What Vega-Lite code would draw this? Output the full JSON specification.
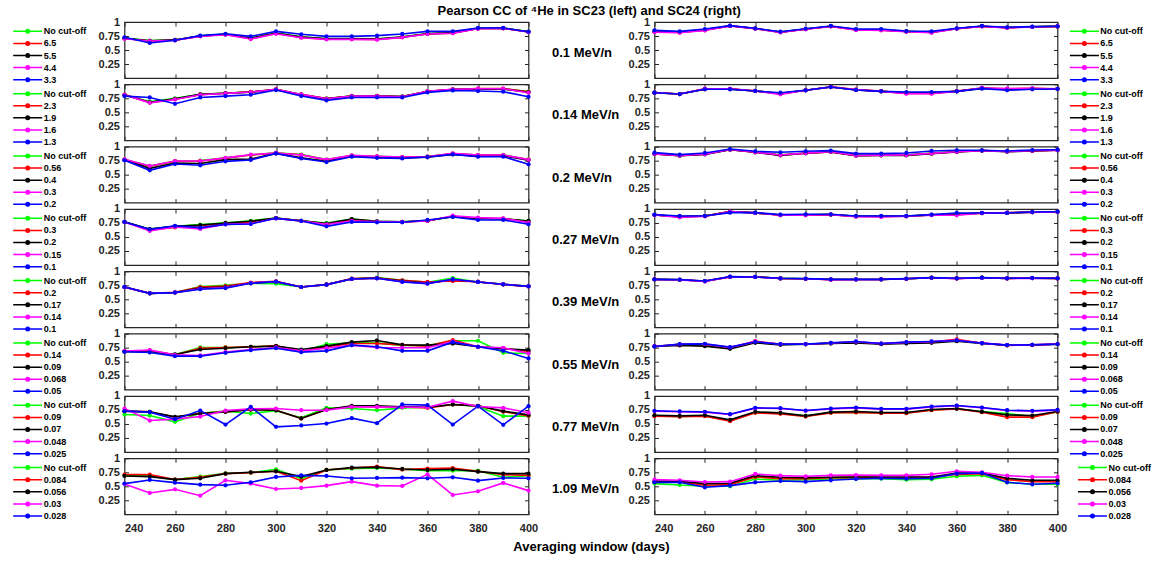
{
"$schema":"https://vega.github.io/schema/vega-lite/v6.json",
"background":"white",
"padding":{"left":20.5,"top":5,"right":5,"bottom":5},
"title":{"text":"Pearson CC of ⁴He in SC23 (left) and SC24 (right)","anchor":"start","frame":"bounds","dx":416.5,"baseline":"alphabetic","offset":-13},
"resolve":{"scale":{"color":"independent"},"legend":{"color":"independent"}},
"datasets":{
"L1":[
{"k":0,"x":240,"y":0.712},{"k":0,"x":250,"y":0.668},{"k":0,"x":260,"y":0.68},{"k":0,"x":270,"y":0.752},{"k":0,"x":280,"y":0.785},{"k":0,"x":290,"y":0.715},{"k":0,"x":300,"y":0.805},{"k":0,"x":310,"y":0.735},{"k":0,"x":320,"y":0.705},{"k":0,"x":330,"y":0.705},{"k":0,"x":340,"y":0.70},{"k":0,"x":350,"y":0.735},{"k":0,"x":360,"y":0.795},{"k":0,"x":370,"y":0.81},{"k":0,"x":380,"y":0.89},{"k":0,"x":390,"y":0.892},{"k":0,"x":400,"y":0.83},
{"k":1,"x":240,"y":0.705},{"k":1,"x":250,"y":0.662},{"k":1,"x":260,"y":0.676},{"k":1,"x":270,"y":0.748},{"k":1,"x":280,"y":0.776},{"k":1,"x":290,"y":0.70},{"k":1,"x":300,"y":0.795},{"k":1,"x":310,"y":0.725},{"k":1,"x":320,"y":0.695},{"k":1,"x":330,"y":0.695},{"k":1,"x":340,"y":0.69},{"k":1,"x":350,"y":0.728},{"k":1,"x":360,"y":0.788},{"k":1,"x":370,"y":0.802},{"k":1,"x":380,"y":0.883},{"k":1,"x":390,"y":0.888},{"k":1,"x":400,"y":0.822},
{"k":2,"x":240,"y":0.71},{"k":2,"x":250,"y":0.665},{"k":2,"x":260,"y":0.68},{"k":2,"x":270,"y":0.75},{"k":2,"x":280,"y":0.78},{"k":2,"x":290,"y":0.71},{"k":2,"x":300,"y":0.80},{"k":2,"x":310,"y":0.73},{"k":2,"x":320,"y":0.70},{"k":2,"x":330,"y":0.70},{"k":2,"x":340,"y":0.695},{"k":2,"x":350,"y":0.73},{"k":2,"x":360,"y":0.79},{"k":2,"x":370,"y":0.805},{"k":2,"x":380,"y":0.885},{"k":2,"x":390,"y":0.89},{"k":2,"x":400,"y":0.825},
{"k":3,"x":240,"y":0.70},{"k":3,"x":250,"y":0.66},{"k":3,"x":260,"y":0.673},{"k":3,"x":270,"y":0.744},{"k":3,"x":280,"y":0.774},{"k":3,"x":290,"y":0.696},{"k":3,"x":300,"y":0.79},{"k":3,"x":310,"y":0.72},{"k":3,"x":320,"y":0.69},{"k":3,"x":330,"y":0.69},{"k":3,"x":340,"y":0.685},{"k":3,"x":350,"y":0.726},{"k":3,"x":360,"y":0.786},{"k":3,"x":370,"y":0.80},{"k":3,"x":380,"y":0.88},{"k":3,"x":390,"y":0.887},{"k":3,"x":400,"y":0.82},
{"k":4,"x":240,"y":0.726},{"k":4,"x":250,"y":0.625},{"k":4,"x":260,"y":0.673},{"k":4,"x":270,"y":0.756},{"k":4,"x":280,"y":0.79},{"k":4,"x":290,"y":0.744},{"k":4,"x":300,"y":0.833},{"k":4,"x":310,"y":0.78},{"k":4,"x":320,"y":0.744},{"k":4,"x":330,"y":0.744},{"k":4,"x":340,"y":0.756},{"k":4,"x":350,"y":0.786},{"k":4,"x":360,"y":0.833},{"k":4,"x":370,"y":0.833},{"k":4,"x":380,"y":0.893},{"k":4,"x":390,"y":0.893},{"k":4,"x":400,"y":0.827}],
"L2":[
{"k":0,"x":240,"y":0.812},{"k":0,"x":250,"y":0.69},{"k":0,"x":260,"y":0.75},{"k":0,"x":270,"y":0.82},{"k":0,"x":280,"y":0.845},{"k":0,"x":290,"y":0.862},{"k":0,"x":300,"y":0.91},{"k":0,"x":310,"y":0.818},{"k":0,"x":320,"y":0.748},{"k":0,"x":330,"y":0.795},{"k":0,"x":340,"y":0.795},{"k":0,"x":350,"y":0.782},{"k":0,"x":360,"y":0.872},{"k":0,"x":370,"y":0.905},{"k":0,"x":380,"y":0.92},{"k":0,"x":390,"y":0.918},{"k":0,"x":400,"y":0.87},
{"k":1,"x":240,"y":0.816},{"k":1,"x":250,"y":0.675},{"k":1,"x":260,"y":0.735},{"k":1,"x":270,"y":0.816},{"k":1,"x":280,"y":0.842},{"k":1,"x":290,"y":0.865},{"k":1,"x":300,"y":0.912},{"k":1,"x":310,"y":0.82},{"k":1,"x":320,"y":0.745},{"k":1,"x":330,"y":0.792},{"k":1,"x":340,"y":0.792},{"k":1,"x":350,"y":0.78},{"k":1,"x":360,"y":0.875},{"k":1,"x":370,"y":0.91},{"k":1,"x":380,"y":0.925},{"k":1,"x":390,"y":0.925},{"k":1,"x":400,"y":0.865},
{"k":2,"x":240,"y":0.81},{"k":2,"x":250,"y":0.68},{"k":2,"x":260,"y":0.74},{"k":2,"x":270,"y":0.82},{"k":2,"x":280,"y":0.84},{"k":2,"x":290,"y":0.86},{"k":2,"x":300,"y":0.905},{"k":2,"x":310,"y":0.815},{"k":2,"x":320,"y":0.74},{"k":2,"x":330,"y":0.79},{"k":2,"x":340,"y":0.79},{"k":2,"x":350,"y":0.78},{"k":2,"x":360,"y":0.87},{"k":2,"x":370,"y":0.905},{"k":2,"x":380,"y":0.915},{"k":2,"x":390,"y":0.915},{"k":2,"x":400,"y":0.86},
{"k":3,"x":240,"y":0.814},{"k":3,"x":250,"y":0.67},{"k":3,"x":260,"y":0.73},{"k":3,"x":270,"y":0.814},{"k":3,"x":280,"y":0.838},{"k":3,"x":290,"y":0.862},{"k":3,"x":300,"y":0.91},{"k":3,"x":310,"y":0.82},{"k":3,"x":320,"y":0.742},{"k":3,"x":330,"y":0.79},{"k":3,"x":340,"y":0.79},{"k":3,"x":350,"y":0.778},{"k":3,"x":360,"y":0.874},{"k":3,"x":370,"y":0.91},{"k":3,"x":380,"y":0.922},{"k":3,"x":390,"y":0.922},{"k":3,"x":400,"y":0.85},
{"k":4,"x":240,"y":0.79},{"k":4,"x":250,"y":0.766},{"k":4,"x":260,"y":0.653},{"k":4,"x":270,"y":0.766},{"k":4,"x":280,"y":0.79},{"k":4,"x":290,"y":0.814},{"k":4,"x":300,"y":0.898},{"k":4,"x":310,"y":0.79},{"k":4,"x":320,"y":0.713},{"k":4,"x":330,"y":0.766},{"k":4,"x":340,"y":0.766},{"k":4,"x":350,"y":0.766},{"k":4,"x":360,"y":0.856},{"k":4,"x":370,"y":0.892},{"k":4,"x":380,"y":0.88},{"k":4,"x":390,"y":0.868},{"k":4,"x":400,"y":0.778}],
"L3":[
{"k":0,"x":240,"y":0.772},{"k":0,"x":250,"y":0.652},{"k":0,"x":260,"y":0.742},{"k":0,"x":270,"y":0.75},{"k":0,"x":280,"y":0.80},{"k":0,"x":290,"y":0.852},{"k":0,"x":300,"y":0.89},{"k":0,"x":310,"y":0.86},{"k":0,"x":320,"y":0.77},{"k":0,"x":330,"y":0.842},{"k":0,"x":340,"y":0.826},{"k":0,"x":350,"y":0.814},{"k":0,"x":360,"y":0.825},{"k":0,"x":370,"y":0.872},{"k":0,"x":380,"y":0.852},{"k":0,"x":390,"y":0.852},{"k":0,"x":400,"y":0.772},
{"k":1,"x":240,"y":0.77},{"k":1,"x":250,"y":0.65},{"k":1,"x":260,"y":0.74},{"k":1,"x":270,"y":0.745},{"k":1,"x":280,"y":0.795},{"k":1,"x":290,"y":0.85},{"k":1,"x":300,"y":0.885},{"k":1,"x":310,"y":0.855},{"k":1,"x":320,"y":0.765},{"k":1,"x":330,"y":0.84},{"k":1,"x":340,"y":0.825},{"k":1,"x":350,"y":0.812},{"k":1,"x":360,"y":0.822},{"k":1,"x":370,"y":0.876},{"k":1,"x":380,"y":0.848},{"k":1,"x":390,"y":0.848},{"k":1,"x":400,"y":0.77},
{"k":2,"x":240,"y":0.76},{"k":2,"x":250,"y":0.613},{"k":2,"x":260,"y":0.708},{"k":2,"x":270,"y":0.70},{"k":2,"x":280,"y":0.768},{"k":2,"x":290,"y":0.78},{"k":2,"x":300,"y":0.88},{"k":2,"x":310,"y":0.80},{"k":2,"x":320,"y":0.74},{"k":2,"x":330,"y":0.83},{"k":2,"x":340,"y":0.81},{"k":2,"x":350,"y":0.80},{"k":2,"x":360,"y":0.81},{"k":2,"x":370,"y":0.86},{"k":2,"x":380,"y":0.83},{"k":2,"x":390,"y":0.835},{"k":2,"x":400,"y":0.76},
{"k":3,"x":240,"y":0.774},{"k":3,"x":250,"y":0.655},{"k":3,"x":260,"y":0.744},{"k":3,"x":270,"y":0.744},{"k":3,"x":280,"y":0.80},{"k":3,"x":290,"y":0.857},{"k":3,"x":300,"y":0.887},{"k":3,"x":310,"y":0.85},{"k":3,"x":320,"y":0.768},{"k":3,"x":330,"y":0.845},{"k":3,"x":340,"y":0.827},{"k":3,"x":350,"y":0.815},{"k":3,"x":360,"y":0.82},{"k":3,"x":370,"y":0.88},{"k":3,"x":380,"y":0.85},{"k":3,"x":390,"y":0.85},{"k":3,"x":400,"y":0.768},
{"k":4,"x":240,"y":0.756},{"k":4,"x":250,"y":0.577},{"k":4,"x":260,"y":0.69},{"k":4,"x":270,"y":0.667},{"k":4,"x":280,"y":0.738},{"k":4,"x":290,"y":0.762},{"k":4,"x":300,"y":0.88},{"k":4,"x":310,"y":0.79},{"k":4,"x":320,"y":0.726},{"k":4,"x":330,"y":0.82},{"k":4,"x":340,"y":0.80},{"k":4,"x":350,"y":0.79},{"k":4,"x":360,"y":0.815},{"k":4,"x":370,"y":0.863},{"k":4,"x":380,"y":0.82},{"k":4,"x":390,"y":0.82},{"k":4,"x":400,"y":0.685}],
"L4":[
{"k":0,"x":240,"y":0.772},{"k":0,"x":250,"y":0.64},{"k":0,"x":260,"y":0.69},{"k":0,"x":270,"y":0.72},{"k":0,"x":280,"y":0.752},{"k":0,"x":290,"y":0.79},{"k":0,"x":300,"y":0.838},{"k":0,"x":310,"y":0.79},{"k":0,"x":320,"y":0.75},{"k":0,"x":330,"y":0.82},{"k":0,"x":340,"y":0.78},{"k":0,"x":350,"y":0.77},{"k":0,"x":360,"y":0.792},{"k":0,"x":370,"y":0.862},{"k":0,"x":380,"y":0.83},{"k":0,"x":390,"y":0.826},{"k":0,"x":400,"y":0.786},
{"k":1,"x":240,"y":0.768},{"k":1,"x":250,"y":0.63},{"k":1,"x":260,"y":0.67},{"k":1,"x":270,"y":0.70},{"k":1,"x":280,"y":0.74},{"k":1,"x":290,"y":0.77},{"k":1,"x":300,"y":0.835},{"k":1,"x":310,"y":0.788},{"k":1,"x":320,"y":0.73},{"k":1,"x":330,"y":0.81},{"k":1,"x":340,"y":0.776},{"k":1,"x":350,"y":0.768},{"k":1,"x":360,"y":0.79},{"k":1,"x":370,"y":0.87},{"k":1,"x":380,"y":0.835},{"k":1,"x":390,"y":0.83},{"k":1,"x":400,"y":0.77},
{"k":2,"x":240,"y":0.77},{"k":2,"x":250,"y":0.64},{"k":2,"x":260,"y":0.69},{"k":2,"x":270,"y":0.714},{"k":2,"x":280,"y":0.75},{"k":2,"x":290,"y":0.78},{"k":2,"x":300,"y":0.836},{"k":2,"x":310,"y":0.79},{"k":2,"x":320,"y":0.74},{"k":2,"x":330,"y":0.82},{"k":2,"x":340,"y":0.78},{"k":2,"x":350,"y":0.77},{"k":2,"x":360,"y":0.79},{"k":2,"x":370,"y":0.865},{"k":2,"x":380,"y":0.83},{"k":2,"x":390,"y":0.825},{"k":2,"x":400,"y":0.786},
{"k":3,"x":240,"y":0.768},{"k":3,"x":250,"y":0.607},{"k":3,"x":260,"y":0.68},{"k":3,"x":270,"y":0.643},{"k":3,"x":280,"y":0.726},{"k":3,"x":290,"y":0.738},{"k":3,"x":300,"y":0.833},{"k":3,"x":310,"y":0.786},{"k":3,"x":320,"y":0.726},{"k":3,"x":330,"y":0.786},{"k":3,"x":340,"y":0.774},{"k":3,"x":350,"y":0.768},{"k":3,"x":360,"y":0.786},{"k":3,"x":370,"y":0.88},{"k":3,"x":380,"y":0.845},{"k":3,"x":390,"y":0.833},{"k":3,"x":400,"y":0.756},
{"k":4,"x":240,"y":0.768},{"k":4,"x":250,"y":0.637},{"k":4,"x":260,"y":0.70},{"k":4,"x":270,"y":0.667},{"k":4,"x":280,"y":0.726},{"k":4,"x":290,"y":0.732},{"k":4,"x":300,"y":0.833},{"k":4,"x":310,"y":0.786},{"k":4,"x":320,"y":0.69},{"k":4,"x":330,"y":0.768},{"k":4,"x":340,"y":0.762},{"k":4,"x":350,"y":0.762},{"k":4,"x":360,"y":0.804},{"k":4,"x":370,"y":0.857},{"k":4,"x":380,"y":0.804},{"k":4,"x":390,"y":0.804},{"k":4,"x":400,"y":0.726}],
"L5":[
{"k":0,"x":240,"y":0.72},{"k":0,"x":250,"y":0.607},{"k":0,"x":260,"y":0.62},{"k":0,"x":270,"y":0.726},{"k":0,"x":280,"y":0.75},{"k":0,"x":290,"y":0.786},{"k":0,"x":300,"y":0.78},{"k":0,"x":310,"y":0.72},{"k":0,"x":320,"y":0.762},{"k":0,"x":330,"y":0.863},{"k":0,"x":340,"y":0.887},{"k":0,"x":350,"y":0.84},{"k":0,"x":360,"y":0.804},{"k":0,"x":370,"y":0.88},{"k":0,"x":380,"y":0.81},{"k":0,"x":390,"y":0.768},{"k":0,"x":400,"y":0.735},
{"k":1,"x":240,"y":0.716},{"k":1,"x":250,"y":0.607},{"k":1,"x":260,"y":0.625},{"k":1,"x":270,"y":0.72},{"k":1,"x":280,"y":0.735},{"k":1,"x":290,"y":0.80},{"k":1,"x":300,"y":0.82},{"k":1,"x":310,"y":0.72},{"k":1,"x":320,"y":0.765},{"k":1,"x":330,"y":0.87},{"k":1,"x":340,"y":0.88},{"k":1,"x":350,"y":0.84},{"k":1,"x":360,"y":0.81},{"k":1,"x":370,"y":0.827},{"k":1,"x":380,"y":0.815},{"k":1,"x":390,"y":0.765},{"k":1,"x":400,"y":0.73},
{"k":2,"x":240,"y":0.72},{"k":2,"x":250,"y":0.607},{"k":2,"x":260,"y":0.62},{"k":2,"x":270,"y":0.70},{"k":2,"x":280,"y":0.72},{"k":2,"x":290,"y":0.79},{"k":2,"x":300,"y":0.815},{"k":2,"x":310,"y":0.72},{"k":2,"x":320,"y":0.762},{"k":2,"x":330,"y":0.865},{"k":2,"x":340,"y":0.878},{"k":2,"x":350,"y":0.825},{"k":2,"x":360,"y":0.79},{"k":2,"x":370,"y":0.85},{"k":2,"x":380,"y":0.81},{"k":2,"x":390,"y":0.768},{"k":2,"x":400,"y":0.732},
{"k":3,"x":240,"y":0.718},{"k":3,"x":250,"y":0.607},{"k":3,"x":260,"y":0.622},{"k":3,"x":270,"y":0.69},{"k":3,"x":280,"y":0.71},{"k":3,"x":290,"y":0.79},{"k":3,"x":300,"y":0.818},{"k":3,"x":310,"y":0.72},{"k":3,"x":320,"y":0.762},{"k":3,"x":330,"y":0.862},{"k":3,"x":340,"y":0.876},{"k":3,"x":350,"y":0.815},{"k":3,"x":360,"y":0.785},{"k":3,"x":370,"y":0.855},{"k":3,"x":380,"y":0.81},{"k":3,"x":390,"y":0.768},{"k":3,"x":400,"y":0.732},
{"k":4,"x":240,"y":0.72},{"k":4,"x":250,"y":0.607},{"k":4,"x":260,"y":0.62},{"k":4,"x":270,"y":0.68},{"k":4,"x":280,"y":0.70},{"k":4,"x":290,"y":0.786},{"k":4,"x":300,"y":0.815},{"k":4,"x":310,"y":0.72},{"k":4,"x":320,"y":0.762},{"k":4,"x":330,"y":0.863},{"k":4,"x":340,"y":0.875},{"k":4,"x":350,"y":0.81},{"k":4,"x":360,"y":0.78},{"k":4,"x":370,"y":0.857},{"k":4,"x":380,"y":0.81},{"k":4,"x":390,"y":0.768},{"k":4,"x":400,"y":0.732}],
"L6":[
{"k":0,"x":240,"y":0.682},{"k":0,"x":250,"y":0.67},{"k":0,"x":260,"y":0.628},{"k":0,"x":270,"y":0.753},{"k":0,"x":280,"y":0.753},{"k":0,"x":290,"y":0.765},{"k":0,"x":300,"y":0.777},{"k":0,"x":310,"y":0.687},{"k":0,"x":320,"y":0.812},{"k":0,"x":330,"y":0.836},{"k":0,"x":340,"y":0.836},{"k":0,"x":350,"y":0.788},{"k":0,"x":360,"y":0.788},{"k":0,"x":370,"y":0.872},{"k":0,"x":380,"y":0.872},{"k":0,"x":390,"y":0.658},{"k":0,"x":400,"y":0.646},
{"k":1,"x":240,"y":0.682},{"k":1,"x":250,"y":0.70},{"k":1,"x":260,"y":0.622},{"k":1,"x":270,"y":0.74},{"k":1,"x":280,"y":0.753},{"k":1,"x":290,"y":0.765},{"k":1,"x":300,"y":0.783},{"k":1,"x":310,"y":0.687},{"k":1,"x":320,"y":0.765},{"k":1,"x":330,"y":0.824},{"k":1,"x":340,"y":0.824},{"k":1,"x":350,"y":0.80},{"k":1,"x":360,"y":0.777},{"k":1,"x":370,"y":0.884},{"k":1,"x":380,"y":0.765},{"k":1,"x":390,"y":0.74},{"k":1,"x":400,"y":0.682},
{"k":2,"x":240,"y":0.682},{"k":2,"x":250,"y":0.682},{"k":2,"x":260,"y":0.628},{"k":2,"x":270,"y":0.717},{"k":2,"x":280,"y":0.74},{"k":2,"x":290,"y":0.765},{"k":2,"x":300,"y":0.777},{"k":2,"x":310,"y":0.717},{"k":2,"x":320,"y":0.777},{"k":2,"x":330,"y":0.848},{"k":2,"x":340,"y":0.878},{"k":2,"x":350,"y":0.80},{"k":2,"x":360,"y":0.795},{"k":2,"x":370,"y":0.824},{"k":2,"x":380,"y":0.765},{"k":2,"x":390,"y":0.73},{"k":2,"x":400,"y":0.705},
{"k":3,"x":240,"y":0.688},{"k":3,"x":250,"y":0.705},{"k":3,"x":260,"y":0.622},{"k":3,"x":270,"y":0.61},{"k":3,"x":280,"y":0.67},{"k":3,"x":290,"y":0.717},{"k":3,"x":300,"y":0.753},{"k":3,"x":310,"y":0.693},{"k":3,"x":320,"y":0.74},{"k":3,"x":330,"y":0.795},{"k":3,"x":340,"y":0.753},{"k":3,"x":350,"y":0.747},{"k":3,"x":360,"y":0.747},{"k":3,"x":370,"y":0.86},{"k":3,"x":380,"y":0.765},{"k":3,"x":390,"y":0.747},{"k":3,"x":400,"y":0.646},
{"k":4,"x":240,"y":0.676},{"k":4,"x":250,"y":0.664},{"k":4,"x":260,"y":0.598},{"k":4,"x":270,"y":0.598},{"k":4,"x":280,"y":0.658},{"k":4,"x":290,"y":0.705},{"k":4,"x":300,"y":0.74},{"k":4,"x":310,"y":0.67},{"k":4,"x":320,"y":0.693},{"k":4,"x":330,"y":0.795},{"k":4,"x":340,"y":0.765},{"k":4,"x":350,"y":0.693},{"k":4,"x":360,"y":0.693},{"k":4,"x":370,"y":0.848},{"k":4,"x":380,"y":0.765},{"k":4,"x":390,"y":0.693},{"k":4,"x":400,"y":0.557}],
"L7":[
{"k":0,"x":240,"y":0.669},{"k":0,"x":250,"y":0.651},{"k":0,"x":260,"y":0.538},{"k":0,"x":270,"y":0.693},{"k":0,"x":280,"y":0.729},{"k":0,"x":290,"y":0.687},{"k":0,"x":300,"y":0.735},{"k":0,"x":310,"y":0.61},{"k":0,"x":320,"y":0.788},{"k":0,"x":330,"y":0.776},{"k":0,"x":340,"y":0.746},{"k":0,"x":350,"y":0.788},{"k":0,"x":360,"y":0.80},{"k":0,"x":370,"y":0.848},{"k":0,"x":380,"y":0.812},{"k":0,"x":390,"y":0.64},{"k":0,"x":400,"y":0.64},
{"k":1,"x":240,"y":0.729},{"k":1,"x":250,"y":0.717},{"k":1,"x":260,"y":0.62},{"k":1,"x":270,"y":0.69},{"k":1,"x":280,"y":0.717},{"k":1,"x":290,"y":0.758},{"k":1,"x":300,"y":0.746},{"k":1,"x":310,"y":0.598},{"k":1,"x":320,"y":0.758},{"k":1,"x":330,"y":0.812},{"k":1,"x":340,"y":0.806},{"k":1,"x":350,"y":0.806},{"k":1,"x":360,"y":0.788},{"k":1,"x":370,"y":0.848},{"k":1,"x":380,"y":0.824},{"k":1,"x":390,"y":0.72},{"k":1,"x":400,"y":0.645},
{"k":2,"x":240,"y":0.729},{"k":2,"x":250,"y":0.717},{"k":2,"x":260,"y":0.627},{"k":2,"x":270,"y":0.687},{"k":2,"x":280,"y":0.717},{"k":2,"x":290,"y":0.758},{"k":2,"x":300,"y":0.746},{"k":2,"x":310,"y":0.598},{"k":2,"x":320,"y":0.758},{"k":2,"x":330,"y":0.824},{"k":2,"x":340,"y":0.824},{"k":2,"x":350,"y":0.806},{"k":2,"x":360,"y":0.80},{"k":2,"x":370,"y":0.848},{"k":2,"x":380,"y":0.824},{"k":2,"x":390,"y":0.729},{"k":2,"x":400,"y":0.663},
{"k":3,"x":240,"y":0.776},{"k":3,"x":250,"y":0.562},{"k":3,"x":260,"y":0.586},{"k":3,"x":270,"y":0.633},{"k":3,"x":280,"y":0.74},{"k":3,"x":290,"y":0.77},{"k":3,"x":300,"y":0.776},{"k":3,"x":310,"y":0.746},{"k":3,"x":320,"y":0.746},{"k":3,"x":330,"y":0.806},{"k":3,"x":340,"y":0.806},{"k":3,"x":350,"y":0.80},{"k":3,"x":360,"y":0.80},{"k":3,"x":370,"y":0.907},{"k":3,"x":380,"y":0.812},{"k":3,"x":390,"y":0.788},{"k":3,"x":400,"y":0.699},
{"k":4,"x":240,"y":0.729},{"k":4,"x":250,"y":0.711},{"k":4,"x":260,"y":0.586},{"k":4,"x":270,"y":0.74},{"k":4,"x":280,"y":0.49},{"k":4,"x":290,"y":0.806},{"k":4,"x":300,"y":0.449},{"k":4,"x":310,"y":0.473},{"k":4,"x":320,"y":0.508},{"k":4,"x":330,"y":0.604},{"k":4,"x":340,"y":0.514},{"k":4,"x":350,"y":0.848},{"k":4,"x":360,"y":0.836},{"k":4,"x":370,"y":0.49},{"k":4,"x":380,"y":0.818},{"k":4,"x":390,"y":0.485},{"k":4,"x":400,"y":0.818}],
"L8":[
{"k":0,"x":240,"y":0.696},{"k":0,"x":250,"y":0.685},{"k":0,"x":260,"y":0.619},{"k":0,"x":270,"y":0.673},{"k":0,"x":280,"y":0.732},{"k":0,"x":290,"y":0.744},{"k":0,"x":300,"y":0.804},{"k":0,"x":310,"y":0.637},{"k":0,"x":320,"y":0.792},{"k":0,"x":330,"y":0.815},{"k":0,"x":340,"y":0.827},{"k":0,"x":350,"y":0.804},{"k":0,"x":360,"y":0.78},{"k":0,"x":370,"y":0.78},{"k":0,"x":380,"y":0.78},{"k":0,"x":390,"y":0.661},{"k":0,"x":400,"y":0.69},
{"k":1,"x":240,"y":0.708},{"k":1,"x":250,"y":0.708},{"k":1,"x":260,"y":0.619},{"k":1,"x":270,"y":0.661},{"k":1,"x":280,"y":0.726},{"k":1,"x":290,"y":0.744},{"k":1,"x":300,"y":0.768},{"k":1,"x":310,"y":0.601},{"k":1,"x":320,"y":0.792},{"k":1,"x":330,"y":0.827},{"k":1,"x":340,"y":0.851},{"k":1,"x":350,"y":0.798},{"k":1,"x":360,"y":0.815},{"k":1,"x":370,"y":0.827},{"k":1,"x":380,"y":0.768},{"k":1,"x":390,"y":0.708},{"k":1,"x":400,"y":0.696},
{"k":2,"x":240,"y":0.685},{"k":2,"x":250,"y":0.673},{"k":2,"x":260,"y":0.619},{"k":2,"x":270,"y":0.643},{"k":2,"x":280,"y":0.726},{"k":2,"x":290,"y":0.75},{"k":2,"x":300,"y":0.768},{"k":2,"x":310,"y":0.673},{"k":2,"x":320,"y":0.792},{"k":2,"x":330,"y":0.833},{"k":2,"x":340,"y":0.839},{"k":2,"x":350,"y":0.81},{"k":2,"x":360,"y":0.792},{"k":2,"x":370,"y":0.804},{"k":2,"x":380,"y":0.762},{"k":2,"x":390,"y":0.726},{"k":2,"x":400,"y":0.726},
{"k":3,"x":240,"y":0.542},{"k":3,"x":250,"y":0.381},{"k":3,"x":260,"y":0.446},{"k":3,"x":270,"y":0.333},{"k":3,"x":280,"y":0.607},{"k":3,"x":290,"y":0.548},{"k":3,"x":300,"y":0.452},{"k":3,"x":310,"y":0.47},{"k":3,"x":320,"y":0.512},{"k":3,"x":330,"y":0.583},{"k":3,"x":340,"y":0.512},{"k":3,"x":350,"y":0.506},{"k":3,"x":360,"y":0.714},{"k":3,"x":370,"y":0.345},{"k":3,"x":380,"y":0.411},{"k":3,"x":390,"y":0.56},{"k":3,"x":400,"y":0.423},
{"k":4,"x":240,"y":0.548},{"k":4,"x":250,"y":0.613},{"k":4,"x":260,"y":0.565},{"k":4,"x":270,"y":0.53},{"k":4,"x":280,"y":0.518},{"k":4,"x":290,"y":0.571},{"k":4,"x":300,"y":0.667},{"k":4,"x":310,"y":0.696},{"k":4,"x":320,"y":0.685},{"k":4,"x":330,"y":0.643},{"k":4,"x":340,"y":0.649},{"k":4,"x":350,"y":0.655},{"k":4,"x":360,"y":0.643},{"k":4,"x":370,"y":0.661},{"k":4,"x":380,"y":0.601},{"k":4,"x":390,"y":0.649},{"k":4,"x":400,"y":0.643}],
"R1":[
{"k":0,"x":240,"y":0.83},{"k":0,"x":250,"y":0.82},{"k":0,"x":260,"y":0.86},{"k":0,"x":270,"y":0.932},{"k":0,"x":280,"y":0.884},{"k":0,"x":290,"y":0.82},{"k":0,"x":300,"y":0.875},{"k":0,"x":310,"y":0.925},{"k":0,"x":320,"y":0.865},{"k":0,"x":330,"y":0.86},{"k":0,"x":340,"y":0.832},{"k":0,"x":350,"y":0.818},{"k":0,"x":360,"y":0.884},{"k":0,"x":370,"y":0.925},{"k":0,"x":380,"y":0.9},{"k":0,"x":390,"y":0.915},{"k":0,"x":400,"y":0.921},
{"k":1,"x":240,"y":0.822},{"k":1,"x":250,"y":0.812},{"k":1,"x":260,"y":0.852},{"k":1,"x":270,"y":0.93},{"k":1,"x":280,"y":0.882},{"k":1,"x":290,"y":0.818},{"k":1,"x":300,"y":0.872},{"k":1,"x":310,"y":0.922},{"k":1,"x":320,"y":0.86},{"k":1,"x":330,"y":0.853},{"k":1,"x":340,"y":0.83},{"k":1,"x":350,"y":0.812},{"k":1,"x":360,"y":0.882},{"k":1,"x":370,"y":0.922},{"k":1,"x":380,"y":0.897},{"k":1,"x":390,"y":0.913},{"k":1,"x":400,"y":0.92},
{"k":2,"x":240,"y":0.83},{"k":2,"x":250,"y":0.82},{"k":2,"x":260,"y":0.86},{"k":2,"x":270,"y":0.932},{"k":2,"x":280,"y":0.884},{"k":2,"x":290,"y":0.82},{"k":2,"x":300,"y":0.875},{"k":2,"x":310,"y":0.925},{"k":2,"x":320,"y":0.865},{"k":2,"x":330,"y":0.86},{"k":2,"x":340,"y":0.832},{"k":2,"x":350,"y":0.818},{"k":2,"x":360,"y":0.884},{"k":2,"x":370,"y":0.925},{"k":2,"x":380,"y":0.9},{"k":2,"x":390,"y":0.915},{"k":2,"x":400,"y":0.921},
{"k":3,"x":240,"y":0.82},{"k":3,"x":250,"y":0.81},{"k":3,"x":260,"y":0.85},{"k":3,"x":270,"y":0.93},{"k":3,"x":280,"y":0.88},{"k":3,"x":290,"y":0.815},{"k":3,"x":300,"y":0.87},{"k":3,"x":310,"y":0.92},{"k":3,"x":320,"y":0.857},{"k":3,"x":330,"y":0.851},{"k":3,"x":340,"y":0.827},{"k":3,"x":350,"y":0.81},{"k":3,"x":360,"y":0.88},{"k":3,"x":370,"y":0.92},{"k":3,"x":380,"y":0.895},{"k":3,"x":390,"y":0.912},{"k":3,"x":400,"y":0.92},
{"k":4,"x":240,"y":0.851},{"k":4,"x":250,"y":0.833},{"k":4,"x":260,"y":0.875},{"k":4,"x":270,"y":0.935},{"k":4,"x":280,"y":0.887},{"k":4,"x":290,"y":0.827},{"k":4,"x":300,"y":0.88},{"k":4,"x":310,"y":0.929},{"k":4,"x":320,"y":0.875},{"k":4,"x":330,"y":0.875},{"k":4,"x":340,"y":0.839},{"k":4,"x":350,"y":0.833},{"k":4,"x":360,"y":0.887},{"k":4,"x":370,"y":0.929},{"k":4,"x":380,"y":0.905},{"k":4,"x":390,"y":0.917},{"k":4,"x":400,"y":0.923}],
"R2":[
{"k":0,"x":240,"y":0.852},{"k":0,"x":250,"y":0.828},{"k":0,"x":260,"y":0.916},{"k":0,"x":270,"y":0.916},{"k":0,"x":280,"y":0.882},{"k":0,"x":290,"y":0.835},{"k":0,"x":300,"y":0.894},{"k":0,"x":310,"y":0.953},{"k":0,"x":320,"y":0.902},{"k":0,"x":330,"y":0.876},{"k":0,"x":340,"y":0.845},{"k":0,"x":350,"y":0.845},{"k":0,"x":360,"y":0.876},{"k":0,"x":370,"y":0.93},{"k":0,"x":380,"y":0.912},{"k":0,"x":390,"y":0.92},{"k":0,"x":400,"y":0.918},
{"k":1,"x":240,"y":0.853},{"k":1,"x":250,"y":0.827},{"k":1,"x":260,"y":0.918},{"k":1,"x":270,"y":0.918},{"k":1,"x":280,"y":0.883},{"k":1,"x":290,"y":0.83},{"k":1,"x":300,"y":0.895},{"k":1,"x":310,"y":0.955},{"k":1,"x":320,"y":0.905},{"k":1,"x":330,"y":0.878},{"k":1,"x":340,"y":0.838},{"k":1,"x":350,"y":0.838},{"k":1,"x":360,"y":0.878},{"k":1,"x":370,"y":0.935},{"k":1,"x":380,"y":0.92},{"k":1,"x":390,"y":0.927},{"k":1,"x":400,"y":0.92},
{"k":2,"x":240,"y":0.85},{"k":2,"x":250,"y":0.827},{"k":2,"x":260,"y":0.915},{"k":2,"x":270,"y":0.915},{"k":2,"x":280,"y":0.88},{"k":2,"x":290,"y":0.835},{"k":2,"x":300,"y":0.893},{"k":2,"x":310,"y":0.952},{"k":2,"x":320,"y":0.9},{"k":2,"x":330,"y":0.875},{"k":2,"x":340,"y":0.845},{"k":2,"x":350,"y":0.845},{"k":2,"x":360,"y":0.875},{"k":2,"x":370,"y":0.93},{"k":2,"x":380,"y":0.91},{"k":2,"x":390,"y":0.92},{"k":2,"x":400,"y":0.918},
{"k":3,"x":240,"y":0.851},{"k":3,"x":250,"y":0.827},{"k":3,"x":260,"y":0.92},{"k":3,"x":270,"y":0.92},{"k":3,"x":280,"y":0.881},{"k":3,"x":290,"y":0.821},{"k":3,"x":300,"y":0.893},{"k":3,"x":310,"y":0.952},{"k":3,"x":320,"y":0.905},{"k":3,"x":330,"y":0.875},{"k":3,"x":340,"y":0.833},{"k":3,"x":350,"y":0.833},{"k":3,"x":360,"y":0.875},{"k":3,"x":370,"y":0.935},{"k":3,"x":380,"y":0.923},{"k":3,"x":390,"y":0.929},{"k":3,"x":400,"y":0.917},
{"k":4,"x":240,"y":0.851},{"k":4,"x":250,"y":0.827},{"k":4,"x":260,"y":0.911},{"k":4,"x":270,"y":0.911},{"k":4,"x":280,"y":0.881},{"k":4,"x":290,"y":0.851},{"k":4,"x":300,"y":0.893},{"k":4,"x":310,"y":0.952},{"k":4,"x":320,"y":0.899},{"k":4,"x":330,"y":0.875},{"k":4,"x":340,"y":0.863},{"k":4,"x":350,"y":0.863},{"k":4,"x":360,"y":0.875},{"k":4,"x":370,"y":0.923},{"k":4,"x":380,"y":0.893},{"k":4,"x":390,"y":0.911},{"k":4,"x":400,"y":0.917}],
"R3":[
{"k":0,"x":240,"y":0.875},{"k":0,"x":250,"y":0.845},{"k":0,"x":260,"y":0.868},{"k":0,"x":270,"y":0.95},{"k":0,"x":280,"y":0.905},{"k":0,"x":290,"y":0.855},{"k":0,"x":300,"y":0.888},{"k":0,"x":310,"y":0.91},{"k":0,"x":320,"y":0.848},{"k":0,"x":330,"y":0.85},{"k":0,"x":340,"y":0.855},{"k":0,"x":350,"y":0.885},{"k":0,"x":360,"y":0.915},{"k":0,"x":370,"y":0.932},{"k":0,"x":380,"y":0.918},{"k":0,"x":390,"y":0.928},{"k":0,"x":400,"y":0.94},
{"k":1,"x":240,"y":0.87},{"k":1,"x":250,"y":0.84},{"k":1,"x":260,"y":0.865},{"k":1,"x":270,"y":0.947},{"k":1,"x":280,"y":0.9},{"k":1,"x":290,"y":0.848},{"k":1,"x":300,"y":0.883},{"k":1,"x":310,"y":0.906},{"k":1,"x":320,"y":0.84},{"k":1,"x":330,"y":0.846},{"k":1,"x":340,"y":0.848},{"k":1,"x":350,"y":0.878},{"k":1,"x":360,"y":0.908},{"k":1,"x":370,"y":0.93},{"k":1,"x":380,"y":0.913},{"k":1,"x":390,"y":0.925},{"k":1,"x":400,"y":0.936},
{"k":2,"x":240,"y":0.869},{"k":2,"x":250,"y":0.839},{"k":2,"x":260,"y":0.863},{"k":2,"x":270,"y":0.946},{"k":2,"x":280,"y":0.899},{"k":2,"x":290,"y":0.845},{"k":2,"x":300,"y":0.881},{"k":2,"x":310,"y":0.905},{"k":2,"x":320,"y":0.839},{"k":2,"x":330,"y":0.845},{"k":2,"x":340,"y":0.845},{"k":2,"x":350,"y":0.875},{"k":2,"x":360,"y":0.905},{"k":2,"x":370,"y":0.929},{"k":2,"x":380,"y":0.911},{"k":2,"x":390,"y":0.923},{"k":2,"x":400,"y":0.935},
{"k":3,"x":240,"y":0.872},{"k":3,"x":250,"y":0.842},{"k":3,"x":260,"y":0.866},{"k":3,"x":270,"y":0.948},{"k":3,"x":280,"y":0.902},{"k":3,"x":290,"y":0.85},{"k":3,"x":300,"y":0.885},{"k":3,"x":310,"y":0.908},{"k":3,"x":320,"y":0.842},{"k":3,"x":330,"y":0.848},{"k":3,"x":340,"y":0.85},{"k":3,"x":350,"y":0.88},{"k":3,"x":360,"y":0.91},{"k":3,"x":370,"y":0.93},{"k":3,"x":380,"y":0.915},{"k":3,"x":390,"y":0.926},{"k":3,"x":400,"y":0.938},
{"k":4,"x":240,"y":0.893},{"k":4,"x":250,"y":0.857},{"k":4,"x":260,"y":0.887},{"k":4,"x":270,"y":0.958},{"k":4,"x":280,"y":0.917},{"k":4,"x":290,"y":0.899},{"k":4,"x":300,"y":0.917},{"k":4,"x":310,"y":0.929},{"k":4,"x":320,"y":0.875},{"k":4,"x":330,"y":0.875},{"k":4,"x":340,"y":0.887},{"k":4,"x":350,"y":0.923},{"k":4,"x":360,"y":0.935},{"k":4,"x":370,"y":0.935},{"k":4,"x":380,"y":0.923},{"k":4,"x":390,"y":0.94},{"k":4,"x":400,"y":0.946}],
"R4":[
{"k":0,"x":240,"y":0.896},{"k":0,"x":250,"y":0.862},{"k":0,"x":260,"y":0.874},{"k":0,"x":270,"y":0.953},{"k":0,"x":280,"y":0.93},{"k":0,"x":290,"y":0.892},{"k":0,"x":300,"y":0.895},{"k":0,"x":310,"y":0.9},{"k":0,"x":320,"y":0.87},{"k":0,"x":330,"y":0.868},{"k":0,"x":340,"y":0.872},{"k":0,"x":350,"y":0.894},{"k":0,"x":360,"y":0.902},{"k":0,"x":370,"y":0.927},{"k":0,"x":380,"y":0.93},{"k":0,"x":390,"y":0.943},{"k":0,"x":400,"y":0.95},
{"k":1,"x":240,"y":0.895},{"k":1,"x":250,"y":0.86},{"k":1,"x":260,"y":0.873},{"k":1,"x":270,"y":0.952},{"k":1,"x":280,"y":0.93},{"k":1,"x":290,"y":0.89},{"k":1,"x":300,"y":0.893},{"k":1,"x":310,"y":0.9},{"k":1,"x":320,"y":0.868},{"k":1,"x":330,"y":0.865},{"k":1,"x":340,"y":0.87},{"k":1,"x":350,"y":0.893},{"k":1,"x":360,"y":0.9},{"k":1,"x":370,"y":0.926},{"k":1,"x":380,"y":0.93},{"k":1,"x":390,"y":0.942},{"k":1,"x":400,"y":0.95},
{"k":2,"x":240,"y":0.893},{"k":2,"x":250,"y":0.863},{"k":2,"x":260,"y":0.875},{"k":2,"x":270,"y":0.955},{"k":2,"x":280,"y":0.93},{"k":2,"x":290,"y":0.893},{"k":2,"x":300,"y":0.895},{"k":2,"x":310,"y":0.9},{"k":2,"x":320,"y":0.87},{"k":2,"x":330,"y":0.87},{"k":2,"x":340,"y":0.872},{"k":2,"x":350,"y":0.895},{"k":2,"x":360,"y":0.905},{"k":2,"x":370,"y":0.928},{"k":2,"x":380,"y":0.93},{"k":2,"x":390,"y":0.944},{"k":2,"x":400,"y":0.95},
{"k":3,"x":240,"y":0.893},{"k":3,"x":250,"y":0.851},{"k":3,"x":260,"y":0.87},{"k":3,"x":270,"y":0.952},{"k":3,"x":280,"y":0.93},{"k":3,"x":290,"y":0.89},{"k":3,"x":300,"y":0.887},{"k":3,"x":310,"y":0.9},{"k":3,"x":320,"y":0.863},{"k":3,"x":330,"y":0.857},{"k":3,"x":340,"y":0.87},{"k":3,"x":350,"y":0.89},{"k":3,"x":360,"y":0.887},{"k":3,"x":370,"y":0.925},{"k":3,"x":380,"y":0.935},{"k":3,"x":390,"y":0.94},{"k":3,"x":400,"y":0.95},
{"k":4,"x":240,"y":0.899},{"k":4,"x":250,"y":0.875},{"k":4,"x":260,"y":0.875},{"k":4,"x":270,"y":0.935},{"k":4,"x":280,"y":0.935},{"k":4,"x":290,"y":0.899},{"k":4,"x":300,"y":0.905},{"k":4,"x":310,"y":0.905},{"k":4,"x":320,"y":0.875},{"k":4,"x":330,"y":0.875},{"k":4,"x":340,"y":0.875},{"k":4,"x":350,"y":0.899},{"k":4,"x":360,"y":0.929},{"k":4,"x":370,"y":0.929},{"k":4,"x":380,"y":0.929},{"k":4,"x":390,"y":0.946},{"k":4,"x":400,"y":0.952}],
"R5":[
{"k":0,"x":240,"y":0.856},{"k":0,"x":250,"y":0.849},{"k":0,"x":260,"y":0.823},{"k":0,"x":270,"y":0.902},{"k":0,"x":280,"y":0.9},{"k":0,"x":290,"y":0.874},{"k":0,"x":300,"y":0.867},{"k":0,"x":310,"y":0.853},{"k":0,"x":320,"y":0.854},{"k":0,"x":330,"y":0.855},{"k":0,"x":340,"y":0.867},{"k":0,"x":350,"y":0.885},{"k":0,"x":360,"y":0.873},{"k":0,"x":370,"y":0.886},{"k":0,"x":380,"y":0.874},{"k":0,"x":390,"y":0.879},{"k":0,"x":400,"y":0.874},
{"k":1,"x":240,"y":0.857},{"k":1,"x":250,"y":0.85},{"k":1,"x":260,"y":0.825},{"k":1,"x":270,"y":0.9},{"k":1,"x":280,"y":0.902},{"k":1,"x":290,"y":0.873},{"k":1,"x":300,"y":0.868},{"k":1,"x":310,"y":0.852},{"k":1,"x":320,"y":0.855},{"k":1,"x":330,"y":0.856},{"k":1,"x":340,"y":0.868},{"k":1,"x":350,"y":0.886},{"k":1,"x":360,"y":0.872},{"k":1,"x":370,"y":0.886},{"k":1,"x":380,"y":0.874},{"k":1,"x":390,"y":0.88},{"k":1,"x":400,"y":0.873},
{"k":2,"x":240,"y":0.856},{"k":2,"x":250,"y":0.849},{"k":2,"x":260,"y":0.823},{"k":2,"x":270,"y":0.902},{"k":2,"x":280,"y":0.9},{"k":2,"x":290,"y":0.874},{"k":2,"x":300,"y":0.867},{"k":2,"x":310,"y":0.853},{"k":2,"x":320,"y":0.854},{"k":2,"x":330,"y":0.855},{"k":2,"x":340,"y":0.867},{"k":2,"x":350,"y":0.885},{"k":2,"x":360,"y":0.873},{"k":2,"x":370,"y":0.886},{"k":2,"x":380,"y":0.874},{"k":2,"x":390,"y":0.879},{"k":2,"x":400,"y":0.874},
{"k":3,"x":240,"y":0.855},{"k":3,"x":250,"y":0.848},{"k":3,"x":260,"y":0.82},{"k":3,"x":270,"y":0.9},{"k":3,"x":280,"y":0.9},{"k":3,"x":290,"y":0.872},{"k":3,"x":300,"y":0.866},{"k":3,"x":310,"y":0.85},{"k":3,"x":320,"y":0.852},{"k":3,"x":330,"y":0.855},{"k":3,"x":340,"y":0.866},{"k":3,"x":350,"y":0.885},{"k":3,"x":360,"y":0.87},{"k":3,"x":370,"y":0.885},{"k":3,"x":380,"y":0.872},{"k":3,"x":390,"y":0.878},{"k":3,"x":400,"y":0.872},
{"k":4,"x":240,"y":0.857},{"k":4,"x":250,"y":0.851},{"k":4,"x":260,"y":0.827},{"k":4,"x":270,"y":0.905},{"k":4,"x":280,"y":0.899},{"k":4,"x":290,"y":0.875},{"k":4,"x":300,"y":0.869},{"k":4,"x":310,"y":0.857},{"k":4,"x":320,"y":0.857},{"k":4,"x":330,"y":0.857},{"k":4,"x":340,"y":0.869},{"k":4,"x":350,"y":0.887},{"k":4,"x":360,"y":0.875},{"k":4,"x":370,"y":0.887},{"k":4,"x":380,"y":0.875},{"k":4,"x":390,"y":0.881},{"k":4,"x":400,"y":0.875}],
"R6":[
{"k":0,"x":240,"y":0.77},{"k":0,"x":250,"y":0.808},{"k":0,"x":260,"y":0.812},{"k":0,"x":270,"y":0.75},{"k":0,"x":280,"y":0.85},{"k":0,"x":290,"y":0.81},{"k":0,"x":300,"y":0.81},{"k":0,"x":310,"y":0.832},{"k":0,"x":320,"y":0.852},{"k":0,"x":330,"y":0.82},{"k":0,"x":340,"y":0.842},{"k":0,"x":350,"y":0.852},{"k":0,"x":360,"y":0.876},{"k":0,"x":370,"y":0.828},{"k":0,"x":380,"y":0.793},{"k":0,"x":390,"y":0.798},{"k":0,"x":400,"y":0.81},
{"k":1,"x":240,"y":0.775},{"k":1,"x":250,"y":0.805},{"k":1,"x":260,"y":0.81},{"k":1,"x":270,"y":0.745},{"k":1,"x":280,"y":0.866},{"k":1,"x":290,"y":0.81},{"k":1,"x":300,"y":0.81},{"k":1,"x":310,"y":0.83},{"k":1,"x":320,"y":0.85},{"k":1,"x":330,"y":0.82},{"k":1,"x":340,"y":0.84},{"k":1,"x":350,"y":0.85},{"k":1,"x":360,"y":0.9},{"k":1,"x":370,"y":0.83},{"k":1,"x":380,"y":0.79},{"k":1,"x":390,"y":0.795},{"k":1,"x":400,"y":0.815},
{"k":2,"x":240,"y":0.771},{"k":2,"x":250,"y":0.789},{"k":2,"x":260,"y":0.777},{"k":2,"x":270,"y":0.729},{"k":2,"x":280,"y":0.836},{"k":2,"x":290,"y":0.80},{"k":2,"x":300,"y":0.813},{"k":2,"x":310,"y":0.824},{"k":2,"x":320,"y":0.836},{"k":2,"x":330,"y":0.812},{"k":2,"x":340,"y":0.824},{"k":2,"x":350,"y":0.836},{"k":2,"x":360,"y":0.866},{"k":2,"x":370,"y":0.825},{"k":2,"x":380,"y":0.795},{"k":2,"x":390,"y":0.80},{"k":2,"x":400,"y":0.81},
{"k":3,"x":240,"y":0.771},{"k":3,"x":250,"y":0.81},{"k":3,"x":260,"y":0.815},{"k":3,"x":270,"y":0.755},{"k":3,"x":280,"y":0.858},{"k":3,"x":290,"y":0.812},{"k":3,"x":300,"y":0.812},{"k":3,"x":310,"y":0.834},{"k":3,"x":320,"y":0.856},{"k":3,"x":330,"y":0.822},{"k":3,"x":340,"y":0.845},{"k":3,"x":350,"y":0.857},{"k":3,"x":360,"y":0.885},{"k":3,"x":370,"y":0.83},{"k":3,"x":380,"y":0.795},{"k":3,"x":390,"y":0.8},{"k":3,"x":400,"y":0.813},
{"k":4,"x":240,"y":0.771},{"k":4,"x":250,"y":0.813},{"k":4,"x":260,"y":0.818},{"k":4,"x":270,"y":0.759},{"k":4,"x":280,"y":0.854},{"k":4,"x":290,"y":0.813},{"k":4,"x":300,"y":0.813},{"k":4,"x":310,"y":0.836},{"k":4,"x":320,"y":0.86},{"k":4,"x":330,"y":0.824},{"k":4,"x":340,"y":0.848},{"k":4,"x":350,"y":0.86},{"k":4,"x":360,"y":0.878},{"k":4,"x":370,"y":0.83},{"k":4,"x":380,"y":0.795},{"k":4,"x":390,"y":0.80},{"k":4,"x":400,"y":0.813}],
"R7":[
{"k":0,"x":240,"y":0.645},{"k":0,"x":250,"y":0.635},{"k":0,"x":260,"y":0.645},{"k":0,"x":270,"y":0.56},{"k":0,"x":280,"y":0.705},{"k":0,"x":290,"y":0.69},{"k":0,"x":300,"y":0.64},{"k":0,"x":310,"y":0.705},{"k":0,"x":320,"y":0.71},{"k":0,"x":330,"y":0.698},{"k":0,"x":340,"y":0.698},{"k":0,"x":350,"y":0.75},{"k":0,"x":360,"y":0.772},{"k":0,"x":370,"y":0.72},{"k":0,"x":380,"y":0.687},{"k":0,"x":390,"y":0.63},{"k":0,"x":400,"y":0.72},
{"k":1,"x":240,"y":0.639},{"k":1,"x":250,"y":0.628},{"k":1,"x":260,"y":0.64},{"k":1,"x":270,"y":0.55},{"k":1,"x":280,"y":0.699},{"k":1,"x":290,"y":0.681},{"k":1,"x":300,"y":0.633},{"k":1,"x":310,"y":0.699},{"k":1,"x":320,"y":0.705},{"k":1,"x":330,"y":0.693},{"k":1,"x":340,"y":0.693},{"k":1,"x":350,"y":0.746},{"k":1,"x":360,"y":0.77},{"k":1,"x":370,"y":0.711},{"k":1,"x":380,"y":0.622},{"k":1,"x":390,"y":0.622},{"k":1,"x":400,"y":0.717},
{"k":2,"x":240,"y":0.657},{"k":2,"x":250,"y":0.645},{"k":2,"x":260,"y":0.657},{"k":2,"x":270,"y":0.574},{"k":2,"x":280,"y":0.717},{"k":2,"x":290,"y":0.699},{"k":2,"x":300,"y":0.645},{"k":2,"x":310,"y":0.711},{"k":2,"x":320,"y":0.723},{"k":2,"x":330,"y":0.705},{"k":2,"x":340,"y":0.705},{"k":2,"x":350,"y":0.758},{"k":2,"x":360,"y":0.776},{"k":2,"x":370,"y":0.717},{"k":2,"x":380,"y":0.663},{"k":2,"x":390,"y":0.651},{"k":2,"x":400,"y":0.723},
{"k":3,"x":240,"y":0.73},{"k":3,"x":250,"y":0.718},{"k":3,"x":260,"y":0.712},{"k":3,"x":270,"y":0.67},{"k":3,"x":280,"y":0.782},{"k":3,"x":290,"y":0.776},{"k":3,"x":300,"y":0.735},{"k":3,"x":310,"y":0.77},{"k":3,"x":320,"y":0.788},{"k":3,"x":330,"y":0.765},{"k":3,"x":340,"y":0.765},{"k":3,"x":350,"y":0.806},{"k":3,"x":360,"y":0.826},{"k":3,"x":370,"y":0.79},{"k":3,"x":380,"y":0.742},{"k":3,"x":390,"y":0.73},{"k":3,"x":400,"y":0.748},
{"k":4,"x":240,"y":0.735},{"k":4,"x":250,"y":0.723},{"k":4,"x":260,"y":0.717},{"k":4,"x":270,"y":0.675},{"k":4,"x":280,"y":0.788},{"k":4,"x":290,"y":0.782},{"k":4,"x":300,"y":0.74},{"k":4,"x":310,"y":0.776},{"k":4,"x":320,"y":0.794},{"k":4,"x":330,"y":0.77},{"k":4,"x":340,"y":0.77},{"k":4,"x":350,"y":0.812},{"k":4,"x":360,"y":0.83},{"k":4,"x":370,"y":0.794},{"k":4,"x":380,"y":0.746},{"k":4,"x":390,"y":0.735},{"k":4,"x":400,"y":0.752}],
"R8":[
{"k":0,"x":240,"y":0.548},{"k":0,"x":250,"y":0.524},{"k":0,"x":260,"y":0.50},{"k":0,"x":270,"y":0.50},{"k":0,"x":280,"y":0.631},{"k":0,"x":290,"y":0.607},{"k":0,"x":300,"y":0.619},{"k":0,"x":310,"y":0.631},{"k":0,"x":320,"y":0.637},{"k":0,"x":330,"y":0.637},{"k":0,"x":340,"y":0.619},{"k":0,"x":350,"y":0.625},{"k":0,"x":360,"y":0.679},{"k":0,"x":370,"y":0.696},{"k":0,"x":380,"y":0.571},{"k":0,"x":390,"y":0.536},{"k":0,"x":400,"y":0.536},
{"k":1,"x":240,"y":0.577},{"k":1,"x":250,"y":0.577},{"k":1,"x":260,"y":0.518},{"k":1,"x":270,"y":0.53},{"k":1,"x":280,"y":0.667},{"k":1,"x":290,"y":0.637},{"k":1,"x":300,"y":0.637},{"k":1,"x":310,"y":0.655},{"k":1,"x":320,"y":0.66},{"k":1,"x":330,"y":0.655},{"k":1,"x":340,"y":0.655},{"k":1,"x":350,"y":0.66},{"k":1,"x":360,"y":0.714},{"k":1,"x":370,"y":0.726},{"k":1,"x":380,"y":0.619},{"k":1,"x":390,"y":0.583},{"k":1,"x":400,"y":0.583},
{"k":2,"x":240,"y":0.595},{"k":2,"x":250,"y":0.589},{"k":2,"x":260,"y":0.548},{"k":2,"x":270,"y":0.554},{"k":2,"x":280,"y":0.69},{"k":2,"x":290,"y":0.661},{"k":2,"x":300,"y":0.655},{"k":2,"x":310,"y":0.661},{"k":2,"x":320,"y":0.667},{"k":2,"x":330,"y":0.667},{"k":2,"x":340,"y":0.667},{"k":2,"x":350,"y":0.667},{"k":2,"x":360,"y":0.738},{"k":2,"x":370,"y":0.738},{"k":2,"x":380,"y":0.643},{"k":2,"x":390,"y":0.607},{"k":2,"x":400,"y":0.607},
{"k":3,"x":240,"y":0.619},{"k":3,"x":250,"y":0.607},{"k":3,"x":260,"y":0.577},{"k":3,"x":270,"y":0.583},{"k":3,"x":280,"y":0.72},{"k":3,"x":290,"y":0.69},{"k":3,"x":300,"y":0.679},{"k":3,"x":310,"y":0.696},{"k":3,"x":320,"y":0.702},{"k":3,"x":330,"y":0.696},{"k":3,"x":340,"y":0.696},{"k":3,"x":350,"y":0.714},{"k":3,"x":360,"y":0.768},{"k":3,"x":370,"y":0.75},{"k":3,"x":380,"y":0.69},{"k":3,"x":390,"y":0.667},{"k":3,"x":400,"y":0.667},
{"k":4,"x":240,"y":0.571},{"k":4,"x":250,"y":0.571},{"k":4,"x":260,"y":0.482},{"k":4,"x":270,"y":0.512},{"k":4,"x":280,"y":0.571},{"k":4,"x":290,"y":0.595},{"k":4,"x":300,"y":0.583},{"k":4,"x":310,"y":0.607},{"k":4,"x":320,"y":0.631},{"k":4,"x":330,"y":0.643},{"k":4,"x":340,"y":0.637},{"k":4,"x":350,"y":0.643},{"k":4,"x":360,"y":0.726},{"k":4,"x":370,"y":0.738},{"k":4,"x":380,"y":0.571},{"k":4,"x":390,"y":0.536},{"k":4,"x":400,"y":0.554}]
},
"vconcat":[{
"title":{"text":"Averaging window (days)","orient":"bottom","anchor":"start","frame":"bounds","dx":492.2,"offset":7},
"spacing":12,
"resolve":{"scale":{"color":"independent"},"legend":{"color":"independent"}},
"hconcat":[
{"vconcat":[
{"width":404,"height":56,"data":{"name":"L1"},"layer":[
{"mark":{"type":"line","strokeWidth":1.6,"point":{"filled":true,"size":18}},"encoding":{
"x":{"field":"x","type":"quantitative","title":null,"scale":{"domain":[240,400]},"axis":{"values":[240,260,280,300,320,340,360,380,400],"labels":false}},
"y":{"field":"y","type":"quantitative","title":null,"scale":{"domain":[0,1]},"axis":{"values":[0.25,0.5,0.75,1],"labelExpr":"''+datum.value"}},
"color":{"field":"k","type":"nominal","scale":{"domain":[0,1,2,3,4],"range":["#00ff00","#ff0000","#000000","#ff00ff","#0000ff"]},"legend":{"orient":"none","legendX":-102.8,"legendY":3.3,"title":null,"symbolType":"M-2.9,0L2.9,0M-0.35,0A0.35,0.35 0 1,0 0.35,0A0.35,0.35 0 1,0 -0.35,0","symbolSize":100,"labelOffset":10,"labelExpr":"['No cut-off','6.5','5.5','4.4','3.3'][datum.value]"}}}},
{"mark":{"type":"point","opacity":0},"encoding":{"x":{"field":"x","type":"quantitative","title":null,"axis":{"orient":"top","labels":false,"values":[240,260,280,300,320,340,360,380,400]}},"y":{"field":"y","type":"quantitative","title":null,"axis":{"orient":"right","labels":false,"values":[0.25,0.5,0.75,1]}}}}
],"resolve":{"axis":{"x":"independent","y":"independent"}}},
{"width":404,"height":56,"data":{"name":"L2"},"layer":[
{"mark":{"type":"line","strokeWidth":1.6,"point":{"filled":true,"size":18}},"encoding":{
"x":{"field":"x","type":"quantitative","title":null,"scale":{"domain":[240,400]},"axis":{"values":[240,260,280,300,320,340,360,380,400],"labels":false}},
"y":{"field":"y","type":"quantitative","title":null,"scale":{"domain":[0,1]},"axis":{"values":[0.25,0.5,0.75,1],"labelExpr":"''+datum.value"}},
"color":{"field":"k","type":"nominal","scale":{"domain":[0,1,2,3,4],"range":["#00ff00","#ff0000","#000000","#ff00ff","#0000ff"]},"legend":{"orient":"none","legendX":-102.8,"legendY":3.3,"title":null,"symbolType":"M-2.9,0L2.9,0M-0.35,0A0.35,0.35 0 1,0 0.35,0A0.35,0.35 0 1,0 -0.35,0","symbolSize":100,"labelOffset":10,"labelExpr":"['No cut-off','2.3','1.9','1.6','1.3'][datum.value]"}}}},
{"mark":{"type":"point","opacity":0},"encoding":{"x":{"field":"x","type":"quantitative","title":null,"axis":{"orient":"top","labels":false,"values":[240,260,280,300,320,340,360,380,400]}},"y":{"field":"y","type":"quantitative","title":null,"axis":{"orient":"right","labels":false,"values":[0.25,0.5,0.75,1]}}}}
],"resolve":{"axis":{"x":"independent","y":"independent"}}},
{"width":404,"height":56,"data":{"name":"L3"},"layer":[
{"mark":{"type":"line","strokeWidth":1.6,"point":{"filled":true,"size":18}},"encoding":{
"x":{"field":"x","type":"quantitative","title":null,"scale":{"domain":[240,400]},"axis":{"values":[240,260,280,300,320,340,360,380,400],"labels":false}},
"y":{"field":"y","type":"quantitative","title":null,"scale":{"domain":[0,1]},"axis":{"values":[0.25,0.5,0.75,1],"labelExpr":"''+datum.value"}},
"color":{"field":"k","type":"nominal","scale":{"domain":[0,1,2,3,4],"range":["#00ff00","#ff0000","#000000","#ff00ff","#0000ff"]},"legend":{"orient":"none","legendX":-102.8,"legendY":3.3,"title":null,"symbolType":"M-2.9,0L2.9,0M-0.35,0A0.35,0.35 0 1,0 0.35,0A0.35,0.35 0 1,0 -0.35,0","symbolSize":100,"labelOffset":10,"labelExpr":"['No cut-off','0.56','0.4','0.3','0.2'][datum.value]"}}}},
{"mark":{"type":"point","opacity":0},"encoding":{"x":{"field":"x","type":"quantitative","title":null,"axis":{"orient":"top","labels":false,"values":[240,260,280,300,320,340,360,380,400]}},"y":{"field":"y","type":"quantitative","title":null,"axis":{"orient":"right","labels":false,"values":[0.25,0.5,0.75,1]}}}}
],"resolve":{"axis":{"x":"independent","y":"independent"}}},
{"width":404,"height":56,"data":{"name":"L4"},"layer":[
{"mark":{"type":"line","strokeWidth":1.6,"point":{"filled":true,"size":18}},"encoding":{
"x":{"field":"x","type":"quantitative","title":null,"scale":{"domain":[240,400]},"axis":{"values":[240,260,280,300,320,340,360,380,400],"labels":false}},
"y":{"field":"y","type":"quantitative","title":null,"scale":{"domain":[0,1]},"axis":{"values":[0.25,0.5,0.75,1],"labelExpr":"''+datum.value"}},
"color":{"field":"k","type":"nominal","scale":{"domain":[0,1,2,3,4],"range":["#00ff00","#ff0000","#000000","#ff00ff","#0000ff"]},"legend":{"orient":"none","legendX":-102.8,"legendY":3.3,"title":null,"symbolType":"M-2.9,0L2.9,0M-0.35,0A0.35,0.35 0 1,0 0.35,0A0.35,0.35 0 1,0 -0.35,0","symbolSize":100,"labelOffset":10,"labelExpr":"['No cut-off','0.3','0.2','0.15','0.1'][datum.value]"}}}},
{"mark":{"type":"point","opacity":0},"encoding":{"x":{"field":"x","type":"quantitative","title":null,"axis":{"orient":"top","labels":false,"values":[240,260,280,300,320,340,360,380,400]}},"y":{"field":"y","type":"quantitative","title":null,"axis":{"orient":"right","labels":false,"values":[0.25,0.5,0.75,1]}}}}
],"resolve":{"axis":{"x":"independent","y":"independent"}}},
{"width":404,"height":56,"data":{"name":"L5"},"layer":[
{"mark":{"type":"line","strokeWidth":1.6,"point":{"filled":true,"size":18}},"encoding":{
"x":{"field":"x","type":"quantitative","title":null,"scale":{"domain":[240,400]},"axis":{"values":[240,260,280,300,320,340,360,380,400],"labels":false}},
"y":{"field":"y","type":"quantitative","title":null,"scale":{"domain":[0,1]},"axis":{"values":[0.25,0.5,0.75,1],"labelExpr":"''+datum.value"}},
"color":{"field":"k","type":"nominal","scale":{"domain":[0,1,2,3,4],"range":["#00ff00","#ff0000","#000000","#ff00ff","#0000ff"]},"legend":{"orient":"none","legendX":-102.8,"legendY":3.3,"title":null,"symbolType":"M-2.9,0L2.9,0M-0.35,0A0.35,0.35 0 1,0 0.35,0A0.35,0.35 0 1,0 -0.35,0","symbolSize":100,"labelOffset":10,"labelExpr":"['No cut-off','0.2','0.17','0.14','0.1'][datum.value]"}}}},
{"mark":{"type":"point","opacity":0},"encoding":{"x":{"field":"x","type":"quantitative","title":null,"axis":{"orient":"top","labels":false,"values":[240,260,280,300,320,340,360,380,400]}},"y":{"field":"y","type":"quantitative","title":null,"axis":{"orient":"right","labels":false,"values":[0.25,0.5,0.75,1]}}}}
],"resolve":{"axis":{"x":"independent","y":"independent"}}},
{"width":404,"height":56,"data":{"name":"L6"},"layer":[
{"mark":{"type":"line","strokeWidth":1.6,"point":{"filled":true,"size":18}},"encoding":{
"x":{"field":"x","type":"quantitative","title":null,"scale":{"domain":[240,400]},"axis":{"values":[240,260,280,300,320,340,360,380,400],"labels":false}},
"y":{"field":"y","type":"quantitative","title":null,"scale":{"domain":[0,1]},"axis":{"values":[0.25,0.5,0.75,1],"labelExpr":"''+datum.value"}},
"color":{"field":"k","type":"nominal","scale":{"domain":[0,1,2,3,4],"range":["#00ff00","#ff0000","#000000","#ff00ff","#0000ff"]},"legend":{"orient":"none","legendX":-102.8,"legendY":3.3,"title":null,"symbolType":"M-2.9,0L2.9,0M-0.35,0A0.35,0.35 0 1,0 0.35,0A0.35,0.35 0 1,0 -0.35,0","symbolSize":100,"labelOffset":10,"labelExpr":"['No cut-off','0.14','0.09','0.068','0.05'][datum.value]"}}}},
{"mark":{"type":"point","opacity":0},"encoding":{"x":{"field":"x","type":"quantitative","title":null,"axis":{"orient":"top","labels":false,"values":[240,260,280,300,320,340,360,380,400]}},"y":{"field":"y","type":"quantitative","title":null,"axis":{"orient":"right","labels":false,"values":[0.25,0.5,0.75,1]}}}}
],"resolve":{"axis":{"x":"independent","y":"independent"}}},
{"width":404,"height":56,"data":{"name":"L7"},"layer":[
{"mark":{"type":"line","strokeWidth":1.6,"point":{"filled":true,"size":18}},"encoding":{
"x":{"field":"x","type":"quantitative","title":null,"scale":{"domain":[240,400]},"axis":{"values":[240,260,280,300,320,340,360,380,400],"labels":false}},
"y":{"field":"y","type":"quantitative","title":null,"scale":{"domain":[0,1]},"axis":{"values":[0.25,0.5,0.75,1],"labelExpr":"''+datum.value"}},
"color":{"field":"k","type":"nominal","scale":{"domain":[0,1,2,3,4],"range":["#00ff00","#ff0000","#000000","#ff00ff","#0000ff"]},"legend":{"orient":"none","legendX":-102.8,"legendY":3.3,"title":null,"symbolType":"M-2.9,0L2.9,0M-0.35,0A0.35,0.35 0 1,0 0.35,0A0.35,0.35 0 1,0 -0.35,0","symbolSize":100,"labelOffset":10,"labelExpr":"['No cut-off','0.09','0.07','0.048','0.025'][datum.value]"}}}},
{"mark":{"type":"point","opacity":0},"encoding":{"x":{"field":"x","type":"quantitative","title":null,"axis":{"orient":"top","labels":false,"values":[240,260,280,300,320,340,360,380,400]}},"y":{"field":"y","type":"quantitative","title":null,"axis":{"orient":"right","labels":false,"values":[0.25,0.5,0.75,1]}}}}
],"resolve":{"axis":{"x":"independent","y":"independent"}}},
{"width":404,"height":56,"data":{"name":"L8"},"layer":[
{"mark":{"type":"line","strokeWidth":1.6,"point":{"filled":true,"size":18}},"encoding":{
"x":{"field":"x","type":"quantitative","title":null,"scale":{"domain":[240,400]},"axis":{"values":[240,260,280,300,320,340,360,380,400],"labelAlign":{"condition":{"test":"datum.value == 240","value":"left"},"value":"center"}}},
"y":{"field":"y","type":"quantitative","title":null,"scale":{"domain":[0,1]},"axis":{"values":[0.25,0.5,0.75,1],"labelExpr":"''+datum.value"}},
"color":{"field":"k","type":"nominal","scale":{"domain":[0,1,2,3,4],"range":["#00ff00","#ff0000","#000000","#ff00ff","#0000ff"]},"legend":{"orient":"none","legendX":-102.8,"legendY":3.3,"title":null,"symbolType":"M-2.9,0L2.9,0M-0.35,0A0.35,0.35 0 1,0 0.35,0A0.35,0.35 0 1,0 -0.35,0","symbolSize":100,"labelOffset":10,"labelExpr":"['No cut-off','0.084','0.056','0.03','0.028'][datum.value]"}}}},
{"mark":{"type":"point","opacity":0},"encoding":{"x":{"field":"x","type":"quantitative","title":null,"axis":{"orient":"top","labels":false,"values":[240,260,280,300,320,340,360,380,400]}},"y":{"field":"y","type":"quantitative","title":null,"axis":{"orient":"right","labels":false,"values":[0.25,0.5,0.75,1]}}}}
],"resolve":{"axis":{"x":"independent","y":"independent"}}}
],"spacing":6.33,"bounds":"flush","resolve":{"scale":{"color":"independent"},"legend":{"color":"independent"}}},
{"vconcat":[
{"width":403,"height":56,"data":{"name":"R1"},"layer":[
{"mark":{"type":"line","strokeWidth":1.6,"point":{"filled":true,"size":18}},"encoding":{
"x":{"field":"x","type":"quantitative","title":null,"scale":{"domain":[240,400]},"axis":{"values":[240,260,280,300,320,340,360,380,400],"labels":false}},
"y":{"field":"y","type":"quantitative","scale":{"domain":[0,1]},"axis":{"values":[0.25,0.5,0.75,1],"labelExpr":"''+datum.value","title":"0.1 MeV/n","titleAngle":0,"titleX":-103,"titleY":30.5,"titleAlign":"left","titleBaseline":"middle"}},
"color":{"field":"k","type":"nominal","scale":{"domain":[0,1,2,3,4],"range":["#00ff00","#ff0000","#000000","#ff00ff","#0000ff"]},"legend":{"orient":"none","legendX":423.9,"legendY":3.3,"title":null,"symbolType":"M-2.9,0L2.9,0M-0.35,0A0.35,0.35 0 1,0 0.35,0A0.35,0.35 0 1,0 -0.35,0","symbolSize":100,"labelOffset":9.8,"labelExpr":"['No cut-off','6.5','5.5','4.4','3.3'][datum.value]"}}}},
{"mark":{"type":"point","opacity":0},"encoding":{"x":{"field":"x","type":"quantitative","title":null,"axis":{"orient":"top","labels":false,"values":[240,260,280,300,320,340,360,380,400]}},"y":{"field":"y","type":"quantitative","title":null,"axis":{"orient":"right","labels":false,"values":[0.25,0.5,0.75,1]}}}}
],"resolve":{"axis":{"x":"independent","y":"independent"}}},
{"width":403,"height":56,"data":{"name":"R2"},"layer":[
{"mark":{"type":"line","strokeWidth":1.6,"point":{"filled":true,"size":18}},"encoding":{
"x":{"field":"x","type":"quantitative","title":null,"scale":{"domain":[240,400]},"axis":{"values":[240,260,280,300,320,340,360,380,400],"labels":false}},
"y":{"field":"y","type":"quantitative","scale":{"domain":[0,1]},"axis":{"values":[0.25,0.5,0.75,1],"labelExpr":"''+datum.value","title":"0.14 MeV/n","titleAngle":0,"titleX":-103,"titleY":30.5,"titleAlign":"left","titleBaseline":"middle"}},
"color":{"field":"k","type":"nominal","scale":{"domain":[0,1,2,3,4],"range":["#00ff00","#ff0000","#000000","#ff00ff","#0000ff"]},"legend":{"orient":"none","legendX":423.9,"legendY":3.3,"title":null,"symbolType":"M-2.9,0L2.9,0M-0.35,0A0.35,0.35 0 1,0 0.35,0A0.35,0.35 0 1,0 -0.35,0","symbolSize":100,"labelOffset":9.8,"labelExpr":"['No cut-off','2.3','1.9','1.6','1.3'][datum.value]"}}}},
{"mark":{"type":"point","opacity":0},"encoding":{"x":{"field":"x","type":"quantitative","title":null,"axis":{"orient":"top","labels":false,"values":[240,260,280,300,320,340,360,380,400]}},"y":{"field":"y","type":"quantitative","title":null,"axis":{"orient":"right","labels":false,"values":[0.25,0.5,0.75,1]}}}}
],"resolve":{"axis":{"x":"independent","y":"independent"}}},
{"width":403,"height":56,"data":{"name":"R3"},"layer":[
{"mark":{"type":"line","strokeWidth":1.6,"point":{"filled":true,"size":18}},"encoding":{
"x":{"field":"x","type":"quantitative","title":null,"scale":{"domain":[240,400]},"axis":{"values":[240,260,280,300,320,340,360,380,400],"labels":false}},
"y":{"field":"y","type":"quantitative","scale":{"domain":[0,1]},"axis":{"values":[0.25,0.5,0.75,1],"labelExpr":"''+datum.value","title":"0.2 MeV/n","titleAngle":0,"titleX":-103,"titleY":30.5,"titleAlign":"left","titleBaseline":"middle"}},
"color":{"field":"k","type":"nominal","scale":{"domain":[0,1,2,3,4],"range":["#00ff00","#ff0000","#000000","#ff00ff","#0000ff"]},"legend":{"orient":"none","legendX":423.9,"legendY":3.3,"title":null,"symbolType":"M-2.9,0L2.9,0M-0.35,0A0.35,0.35 0 1,0 0.35,0A0.35,0.35 0 1,0 -0.35,0","symbolSize":100,"labelOffset":9.8,"labelExpr":"['No cut-off','0.56','0.4','0.3','0.2'][datum.value]"}}}},
{"mark":{"type":"point","opacity":0},"encoding":{"x":{"field":"x","type":"quantitative","title":null,"axis":{"orient":"top","labels":false,"values":[240,260,280,300,320,340,360,380,400]}},"y":{"field":"y","type":"quantitative","title":null,"axis":{"orient":"right","labels":false,"values":[0.25,0.5,0.75,1]}}}}
],"resolve":{"axis":{"x":"independent","y":"independent"}}},
{"width":403,"height":56,"data":{"name":"R4"},"layer":[
{"mark":{"type":"line","strokeWidth":1.6,"point":{"filled":true,"size":18}},"encoding":{
"x":{"field":"x","type":"quantitative","title":null,"scale":{"domain":[240,400]},"axis":{"values":[240,260,280,300,320,340,360,380,400],"labels":false}},
"y":{"field":"y","type":"quantitative","scale":{"domain":[0,1]},"axis":{"values":[0.25,0.5,0.75,1],"labelExpr":"''+datum.value","title":"0.27 MeV/n","titleAngle":0,"titleX":-103,"titleY":30.5,"titleAlign":"left","titleBaseline":"middle"}},
"color":{"field":"k","type":"nominal","scale":{"domain":[0,1,2,3,4],"range":["#00ff00","#ff0000","#000000","#ff00ff","#0000ff"]},"legend":{"orient":"none","legendX":423.9,"legendY":3.3,"title":null,"symbolType":"M-2.9,0L2.9,0M-0.35,0A0.35,0.35 0 1,0 0.35,0A0.35,0.35 0 1,0 -0.35,0","symbolSize":100,"labelOffset":9.8,"labelExpr":"['No cut-off','0.3','0.2','0.15','0.1'][datum.value]"}}}},
{"mark":{"type":"point","opacity":0},"encoding":{"x":{"field":"x","type":"quantitative","title":null,"axis":{"orient":"top","labels":false,"values":[240,260,280,300,320,340,360,380,400]}},"y":{"field":"y","type":"quantitative","title":null,"axis":{"orient":"right","labels":false,"values":[0.25,0.5,0.75,1]}}}}
],"resolve":{"axis":{"x":"independent","y":"independent"}}},
{"width":403,"height":56,"data":{"name":"R5"},"layer":[
{"mark":{"type":"line","strokeWidth":1.6,"point":{"filled":true,"size":18}},"encoding":{
"x":{"field":"x","type":"quantitative","title":null,"scale":{"domain":[240,400]},"axis":{"values":[240,260,280,300,320,340,360,380,400],"labels":false}},
"y":{"field":"y","type":"quantitative","scale":{"domain":[0,1]},"axis":{"values":[0.25,0.5,0.75,1],"labelExpr":"''+datum.value","title":"0.39 MeV/n","titleAngle":0,"titleX":-103,"titleY":30.5,"titleAlign":"left","titleBaseline":"middle"}},
"color":{"field":"k","type":"nominal","scale":{"domain":[0,1,2,3,4],"range":["#00ff00","#ff0000","#000000","#ff00ff","#0000ff"]},"legend":{"orient":"none","legendX":423.9,"legendY":3.3,"title":null,"symbolType":"M-2.9,0L2.9,0M-0.35,0A0.35,0.35 0 1,0 0.35,0A0.35,0.35 0 1,0 -0.35,0","symbolSize":100,"labelOffset":9.8,"labelExpr":"['No cut-off','0.2','0.17','0.14','0.1'][datum.value]"}}}},
{"mark":{"type":"point","opacity":0},"encoding":{"x":{"field":"x","type":"quantitative","title":null,"axis":{"orient":"top","labels":false,"values":[240,260,280,300,320,340,360,380,400]}},"y":{"field":"y","type":"quantitative","title":null,"axis":{"orient":"right","labels":false,"values":[0.25,0.5,0.75,1]}}}}
],"resolve":{"axis":{"x":"independent","y":"independent"}}},
{"width":403,"height":56,"data":{"name":"R6"},"layer":[
{"mark":{"type":"line","strokeWidth":1.6,"point":{"filled":true,"size":18}},"encoding":{
"x":{"field":"x","type":"quantitative","title":null,"scale":{"domain":[240,400]},"axis":{"values":[240,260,280,300,320,340,360,380,400],"labels":false}},
"y":{"field":"y","type":"quantitative","scale":{"domain":[0,1]},"axis":{"values":[0.25,0.5,0.75,1],"labelExpr":"''+datum.value","title":"0.55 MeV/n","titleAngle":0,"titleX":-103,"titleY":30.5,"titleAlign":"left","titleBaseline":"middle"}},
"color":{"field":"k","type":"nominal","scale":{"domain":[0,1,2,3,4],"range":["#00ff00","#ff0000","#000000","#ff00ff","#0000ff"]},"legend":{"orient":"none","legendX":423.9,"legendY":3.3,"title":null,"symbolType":"M-2.9,0L2.9,0M-0.35,0A0.35,0.35 0 1,0 0.35,0A0.35,0.35 0 1,0 -0.35,0","symbolSize":100,"labelOffset":9.8,"labelExpr":"['No cut-off','0.14','0.09','0.068','0.05'][datum.value]"}}}},
{"mark":{"type":"point","opacity":0},"encoding":{"x":{"field":"x","type":"quantitative","title":null,"axis":{"orient":"top","labels":false,"values":[240,260,280,300,320,340,360,380,400]}},"y":{"field":"y","type":"quantitative","title":null,"axis":{"orient":"right","labels":false,"values":[0.25,0.5,0.75,1]}}}}
],"resolve":{"axis":{"x":"independent","y":"independent"}}},
{"width":403,"height":56,"data":{"name":"R7"},"layer":[
{"mark":{"type":"line","strokeWidth":1.6,"point":{"filled":true,"size":18}},"encoding":{
"x":{"field":"x","type":"quantitative","title":null,"scale":{"domain":[240,400]},"axis":{"values":[240,260,280,300,320,340,360,380,400],"labels":false}},
"y":{"field":"y","type":"quantitative","scale":{"domain":[0,1]},"axis":{"values":[0.25,0.5,0.75,1],"labelExpr":"''+datum.value","title":"0.77 MeV/n","titleAngle":0,"titleX":-103,"titleY":30.5,"titleAlign":"left","titleBaseline":"middle"}},
"color":{"field":"k","type":"nominal","scale":{"domain":[0,1,2,3,4],"range":["#00ff00","#ff0000","#000000","#ff00ff","#0000ff"]},"legend":{"orient":"none","legendX":423.9,"legendY":3.3,"title":null,"symbolType":"M-2.9,0L2.9,0M-0.35,0A0.35,0.35 0 1,0 0.35,0A0.35,0.35 0 1,0 -0.35,0","symbolSize":100,"labelOffset":9.8,"labelExpr":"['No cut-off','0.09','0.07','0.048','0.025'][datum.value]"}}}},
{"mark":{"type":"point","opacity":0},"encoding":{"x":{"field":"x","type":"quantitative","title":null,"axis":{"orient":"top","labels":false,"values":[240,260,280,300,320,340,360,380,400]}},"y":{"field":"y","type":"quantitative","title":null,"axis":{"orient":"right","labels":false,"values":[0.25,0.5,0.75,1]}}}}
],"resolve":{"axis":{"x":"independent","y":"independent"}}},
{"width":403,"height":56,"data":{"name":"R8"},"layer":[
{"mark":{"type":"line","strokeWidth":1.6,"point":{"filled":true,"size":18}},"encoding":{
"x":{"field":"x","type":"quantitative","title":null,"scale":{"domain":[240,400]},"axis":{"values":[240,260,280,300,320,340,360,380,400],"labelAlign":{"condition":{"test":"datum.value == 240","value":"left"},"value":"center"}}},
"y":{"field":"y","type":"quantitative","scale":{"domain":[0,1]},"axis":{"values":[0.25,0.5,0.75,1],"labelExpr":"''+datum.value","title":"1.09 MeV/n","titleAngle":0,"titleX":-103,"titleY":30.5,"titleAlign":"left","titleBaseline":"middle"}},
"color":{"field":"k","type":"nominal","scale":{"domain":[0,1,2,3,4],"range":["#00ff00","#ff0000","#000000","#ff00ff","#0000ff"]},"legend":{"orient":"none","legendX":432,"legendY":3.3,"title":null,"symbolType":"M-2.9,0L2.9,0M-0.35,0A0.35,0.35 0 1,0 0.35,0A0.35,0.35 0 1,0 -0.35,0","symbolSize":100,"labelOffset":10,"labelExpr":"['No cut-off','0.084','0.056','0.03','0.028'][datum.value]"}}}},
{"mark":{"type":"point","opacity":0},"encoding":{"x":{"field":"x","type":"quantitative","title":null,"axis":{"orient":"top","labels":false,"values":[240,260,280,300,320,340,360,380,400]}},"y":{"field":"y","type":"quantitative","title":null,"axis":{"orient":"right","labels":false,"values":[0.25,0.5,0.75,1]}}}}
],"resolve":{"axis":{"x":"independent","y":"independent"}}}
],"spacing":6.33,"bounds":"flush","resolve":{"scale":{"color":"independent"},"legend":{"color":"independent"}}}
]}],
"config":{
"font":"Liberation Sans",
"view":{"stroke":"#262626","strokeWidth":1.2},
"axis":{"domain":false,"grid":false,"tickColor":"#262626","tickSize":-4,"tickWidth":1,"labelFont":"Liberation Sans","labelFontSize":11,"labelFontWeight":"bold","labelColor":"#262626","labelFlush":false,"titleFont":"Liberation Sans","titleFontSize":13,"titleFontWeight":"bold","titleColor":"#000000"},
"axisY":{"labelPadding":9},
"axisX":{"labelPadding":12},
"legend":{"padding":0,"rowPadding":1.1,"labelFont":"Liberation Sans","labelFontSize":9,"labelFontWeight":"bold","labelColor":"#000000","symbolStrokeWidth":1.5},
"title":{"font":"Liberation Sans","fontSize":13,"fontWeight":"bold","color":"#000000"}
}
}
